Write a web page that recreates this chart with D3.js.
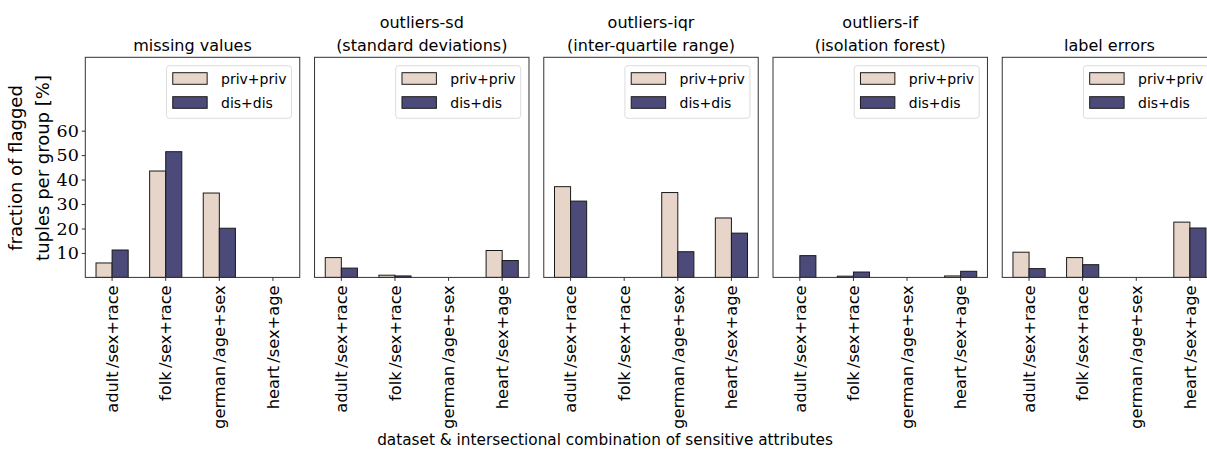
<!DOCTYPE html>
<html>
<head>
<meta http-equiv="Content-Type" content="text/html; charset=UTF-8">
<script src="https://d3js.org/d3.v7.min.js"></script>
<style>
  body { margin: 0; background: #fff; }
  text { font-family: "DejaVu Sans", sans-serif; fill: #000; }
</style>
</head>
<body>
<div id="my_dataviz"></div>
<script>
// data
var panelTitles = [
  ["missing values"],
  ["outliers-sd", "(standard deviations)"],
  ["outliers-iqr", "(inter-quartile range)"],
  ["outliers-if", "(isolation forest)"],
  ["label errors"]
];
var categories = ["adult/sex+race", "folk/sex+race", "german/age+sex", "heart/sex+age"];
var groups = ["priv+priv", "dis+dis"];
// one array per panel, values per category for each group
var privPriv = [
  [5.9, 43.5, 34.5, 0],
  [8.1, 0.9, 0, 11.0],
  [37.1, 0, 34.7, 24.3],
  [0, 0.5, 0, 0.6],
  [10.3, 8.1, 0, 22.6]
];
var disDis = [
  [11.2, 51.4, 20.1, 0],
  [3.8, 0.6, 0, 6.9],
  [31.2, 0, 10.5, 18.1],
  [8.9, 2.2, 0, 2.5],
  [3.6, 5.2, 0, 20.2]
];
var yTicks = [10, 20, 30, 40, 50, 60];

var colors = {"priv+priv": "#e8d5c9", "dis+dis": "#4b4a79"};

var W = 1207, H = 451;
var plotTop = 57.3, plotBottom = 277.4;

var svg = d3.select("#my_dataviz")
  .append("svg")
    .attr("width", W)
    .attr("height", H);

// panels laid out side by side, the last one runs off the right edge
var panel = d3.scaleBand()
  .domain(d3.range(5))
  .range([85.3, 1216.7])
  .paddingInner(0.0645);

var y = d3.scaleLinear()
  .domain([0, 90])
  .range([plotBottom, plotTop]);

var x = d3.scaleBand()
  .domain(categories)
  .range([0, panel.bandwidth()]);

var xSub = d3.scaleBand()
  .domain(groups)
  .range([x.step() * 0.2, x.step() * 0.8]);

panelTitles.forEach(function(title, p) {
  var g = svg.append("g")
    .attr("transform", "translate(" + panel(p) + ",0)");

  var rows = categories.map(function(c, i) {
    return {cat: c, values: [privPriv[p][i], disDis[p][i]]};
  });

  // bars
  g.selectAll(".cat")
    .data(rows)
    .enter().append("g")
      .attr("transform", function(d) { return "translate(" + x(d.cat) + ",0)"; })
    .selectAll("rect")
    .data(function(d) { return groups.map(function(k, j) { return {key: k, value: d.values[j]}; }); })
    .enter().append("rect")
      .attr("x", function(d) { return xSub(d.key); })
      .attr("y", function(d) { return y(d.value); })
      .attr("width", xSub.bandwidth())
      .attr("height", function(d) { return y(0) - y(d.value); })
      .attr("fill", function(d) { return colors[d.key]; })
      .attr("stroke", "#1a1a1a")
      .attr("stroke-width", 1);

  // frame
  g.append("rect")
    .attr("x", 0)
    .attr("y", plotTop)
    .attr("width", panel.bandwidth())
    .attr("height", plotBottom - plotTop)
    .attr("fill", "none")
    .attr("stroke", "#333")
    .attr("stroke-width", 1);

  // x axis with rotated labels
  var xAxis = g.append("g")
    .attr("transform", "translate(0," + plotBottom + ")")
    .call(d3.axisBottom(x).tickSize(3.5).tickSizeOuter(0).tickFormat(function(d) {
      return d.replace("/", "\u2009/");
    }));
  xAxis.select(".domain").remove();
  xAxis.selectAll("line").attr("stroke", "#333");
  xAxis.selectAll("text")
    .style("font-size", "16.3px")
    .style("font-family", "'DejaVu Sans', sans-serif")
    .attr("text-anchor", "end")
    .attr("transform", "rotate(-90)")
    .attr("x", -8)
    .attr("y", 0)
    .attr("dy", "0.35em");

  if (p === 0) {
    var yAxis = g.append("g")
      .call(d3.axisLeft(y).tickValues(yTicks).tickSize(3.5).tickSizeOuter(0));
    yAxis.select(".domain").remove();
    yAxis.selectAll("line").attr("stroke", "#333");
    yAxis.selectAll("text")
      .style("font-size", "17.5px")
      .style("font-family", "'DejaVu Serif', serif")
      .attr("fill", "#333")
      .attr("x", -6.5);
  }

  // title
  var t = g.append("text")
    .attr("x", panel.bandwidth() / 2)
    .attr("text-anchor", "middle")
    .style("font-size", "16px");
  title.forEach(function(line, i) {
    t.append("tspan")
      .attr("x", panel.bandwidth() / 2)
      .attr("y", 51 - (title.length - 1 - i) * 23)
      .text(line);
  });

  // legend
  var lg = g.append("g")
    .attr("transform", "translate(" + (panel.bandwidth() - 133.3) + "," + (plotTop + 8.4) + ")");
  lg.append("rect")
    .attr("width", 125)
    .attr("height", 52.6)
    .attr("rx", 3)
    .attr("fill", "#fff")
    .attr("fill-opacity", 0.8)
    .attr("stroke", "#dcdcdc");
  groups.forEach(function(k, i) {
    lg.append("rect")
      .attr("x", 6.3)
      .attr("y", 7 + i * 24)
      .attr("width", 34.4)
      .attr("height", 11.6)
      .attr("fill", colors[k])
      .attr("stroke", "#1a1a1a");
    lg.append("text")
      .attr("x", 54.6)
      .attr("y", 13 + i * 24)
      .attr("dy", "0.35em")
      .style("font-size", "14px")
      .text(k);
  });
});

// y label, two lines
svg.append("text")
  .attr("transform", "translate(16,168) rotate(-90)")
  .attr("text-anchor", "middle")
  .attr("dy", "0.35em")
  .style("font-size", "18px")
  .text("fraction of flagged");
svg.append("text")
  .attr("transform", "translate(43,168) rotate(-90)")
  .attr("text-anchor", "middle")
  .attr("dy", "0.35em")
  .style("font-size", "18px")
  .text("tuples per group [%]");

// x label
svg.append("text")
  .attr("x", 605)
  .attr("y", 445)
  .attr("text-anchor", "middle")
  .style("font-size", "15.3px")
  .text("dataset & intersectional combination of sensitive attributes");
</script>
</body>
</html>
